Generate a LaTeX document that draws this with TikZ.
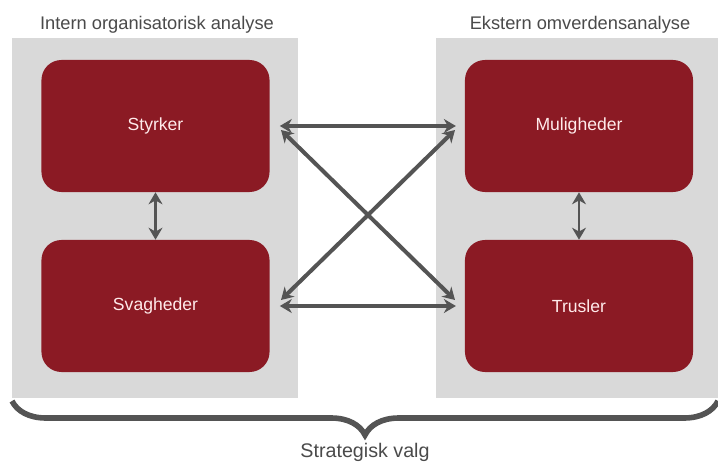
\documentclass[tikz,border=0pt]{standalone}
\usepackage{fontspec}
\setmainfont{Liberation Sans}
\usetikzlibrary{arrows.meta,decorations.pathreplacing}
\definecolor{boksrod}{HTML}{8B1A24}
\definecolor{panelgraa}{HTML}{D9D9D9}
\definecolor{pilgraa}{HTML}{545454}
\definecolor{tekstgraa}{HTML}{4A4A4A}
\begin{document}
\begin{tikzpicture}[x=0.025cm,y=-0.025cm]
    \tikzstyle{felt}=[draw=none,fill=boksrod,rounded corners=0.5cm,minimum width=5.7cm,minimum height=3.3cm,text=red!8,font=\fontsize{12.5}{14}\selectfont];
    \tikzstyle{pil}=[draw=pilgraa,line width=0.1cm,{Stealth[length=0.3cm,width=0.35cm]}-{Stealth[length=0.3cm,width=0.35cm]}];
    \tikzstyle{overskrift}=[text=tekstgraa,font=\fontsize{13}{15}\selectfont];
    \useasboundingbox (0,0) rectangle (718,465);
    % graa paneler
    \fill[panelgraa] (12,38) rectangle (298,398);
    \fill[panelgraa] (436,38) rectangle (730,398);
    \node at (157,25) (intern) [overskrift] {Intern organisatorisk analyse};
    \node at (580,25) (ekstern) [overskrift] {Ekstern omverdensanalyse};

    \node at (155.5,126) (styrker) [felt] {Styrker};
    \node at (155.5,306) (svagheder) [felt] {Svagheder};
    \node at (579,126) (muligheder) [felt] {Muligheder};
    \node at (579,306) (trusler) [felt] {Trusler};

    \coordinate (s1) at (281,130);
    \coordinate (s2) at (281,300);
    \coordinate (m1) at (455,130);
    \coordinate (t1) at (455,300);

    \draw[pil,line width=0.07cm] (styrker) to (svagheder);
    \draw[pil,line width=0.07cm] (muligheder) to (trusler);
    \draw[pil,shorten <=0.25cm,shorten >=0.22cm] (styrker.east) to (muligheder.west);
    \draw[pil,shorten <=0.25cm,shorten >=0.22cm] (svagheder.east) to (trusler.west);
    \draw[pil] (s1) to (t1);
    \draw[pil] (s2) to (m1);

    % klamme
    \draw[pilgraa,line width=0.14cm,decorate,decoration={brace,mirror,amplitude=0.85cm}] (12,401) to (718,401);
    \node at (365,452) (valg) [overskrift,font=\fontsize{14}{16}\selectfont] {Strategisk valg};
\end{tikzpicture}
\end{document}
